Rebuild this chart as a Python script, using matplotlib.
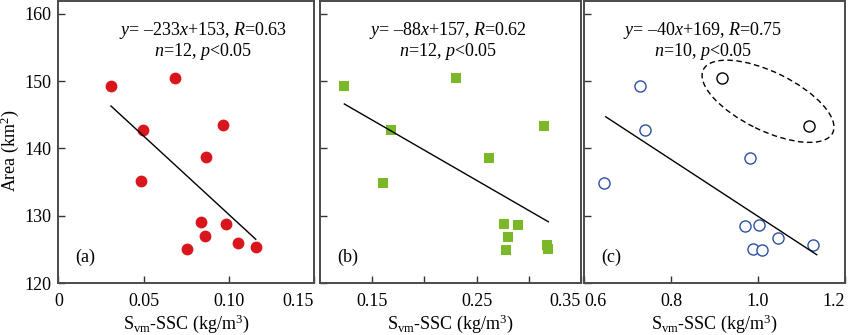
import matplotlib
matplotlib.use('Agg')
import matplotlib.pyplot as plt
from matplotlib.patches import Ellipse
from matplotlib.transforms import ScaledTranslation

plt.rcParams['font.family'] = ['Liberation Serif', 'DejaVu Serif']
plt.rcParams['mathtext.fontset'] = 'custom'
plt.rcParams['mathtext.rm'] = 'Liberation Serif'
plt.rcParams['mathtext.it'] = 'Liberation Serif:italic'
FS = 13

# (a) 红色实心圆
a_x = [0.0308, 0.0684, 0.0498, 0.0484, 0.0964, 0.0864, 0.0837, 0.0984, 0.0860, 0.0753, 0.1056, 0.1158]
a_y = [149.2, 150.5, 142.8, 135.1, 143.5, 138.7, 129.0, 128.8, 127.0, 125.1, 125.9, 125.3]
a_fit_x = [0.0308, 0.1158]
a_fit_y = [146.3, 126.5]

# (b) 绿色方块
b_x = [0.1233, 0.2300, 0.1680, 0.1601, 0.3148, 0.2619, 0.2762, 0.2894, 0.2804, 0.2779, 0.3178, 0.3182]
b_y = [149.2, 150.4, 142.7, 134.9, 143.4, 138.6, 128.8, 128.6, 126.8, 124.9, 125.7, 125.1]
b_fit_x = [0.1233, 0.3187]
b_fit_y = [146.6, 129.1]

# (c) 蓝色空心圆 + 两个离群点
c_x = [0.7287, 0.7402, 0.6467, 0.9816, 0.9701, 1.0030, 1.0453, 0.9878, 1.0099, 1.1271]
c_y = [149.2, 142.7, 134.9, 138.6, 128.5, 128.6, 126.7, 125.0, 124.9, 125.6]
c_out_x = [0.9166, 1.1180]
c_out_y = [150.5, 143.4]
c_fit_x = [0.6499, 1.135]
c_fit_y = [144.7, 124.2]
ell_center = (1.023, 147.0)

eq_text = ["$y$= \u2013233$x$+153, $R$=0.63\n$n$=12, $p$<0.05",
           "$y$= \u201388$x$+157, $R$=0.62\n$n$=12, $p$<0.05",
           "$y$= \u201340$x$+169, $R$=0.75\n$n$=10, $p$<0.05"]
eq_xpos = [0.566, 0.49, 0.456]
panel_tags = ['(a)', '(b)', '(c)']

xticks = [[0, 0.05, 0.10, 0.15], [0.15, 0.20, 0.25, 0.30, 0.35], [0.6, 0.8, 1.0, 1.2]]
xticklabels = [['0', '0.05', '0.10', '0.15'], ['0.15', '', '0.25', '', '0.35'], ['0.6', '0.8', '1.0', '1.2']]
xlims = [(0, 0.15), (0.10, 0.35), (0.6, 1.2)]

fig = plt.figure(figsize=(8.5, 3.35), dpi=100)
lefts = [58.5 / 850, 320 / 850, 584 / 850]
widths = [255.5 / 850, 261 / 850, 261 / 850]
axes = [fig.add_axes([lefts[i], 52 / 335, widths[i], 282 / 335]) for i in range(3)]

spine_col = '#4a4a4a'
for i, ax in enumerate(axes):
    ax.set_xlim(*xlims[i])
    ax.set_ylim(120, 161.9)
    ax.set_xticks(xticks[i])
    ax.set_xticklabels(xticklabels[i])
    ax.set_yticks([120, 130, 140, 150, 160])
    ax.tick_params(axis='both', direction='in', length=5, width=1, color='#333333', labelsize=FS)
    ax.tick_params(axis='x', pad=7)
    ax.tick_params(axis='y', pad=5)
    for s in ax.spines.values():
        s.set_color(spine_col)
        s.set_linewidth(1.4)
    if i > 0:
        ax.set_yticklabels([])
    ax.set_xlabel('S$_{\\mathregular{vm}}$-SSC (kg/m$^{3}$)', fontsize=FS)
    ax.xaxis.set_label_coords(0.5, -0.103)
    ax.text(eq_xpos[i], 0.858, eq_text[i], transform=ax.transAxes, ha='center', va='center',
            fontsize=FS, linespacing=1.05, multialignment='center')
    ax.text(0.065, 0.092, panel_tags[i], transform=ax.transAxes, ha='left', va='center', fontsize=FS)

# 边界处的刻度标签对齐
labs = axes[0].get_xticklabels()
labs[-1].set_horizontalalignment('right')
axes[1].get_xticklabels()[-1].set_horizontalalignment('right')
labs = axes[2].get_xticklabels()
labs[0].set_horizontalalignment('left')
labs[-1].set_horizontalalignment('right')

axes[0].set_ylabel('Area (km$^{2}$)', fontsize=FS)
axes[0].yaxis.set_label_coords(-0.145, 0.47)

axes[0].plot(a_x, a_y, 'o', color='#d9161c', markersize=8.5, markeredgewidth=0)
axes[0].plot(a_fit_x, a_fit_y, color='black', lw=1)

axes[1].plot(b_x, b_y, 's', color='#7ab828', markersize=7.5, markeredgewidth=0)
axes[1].plot(b_fit_x, b_fit_y, color='black', lw=1)

axes[2].plot(c_x, c_y, 'o', mfc='white', mec='#2b50a6', markersize=8, markeredgewidth=1)
axes[2].plot(c_out_x, c_out_y, 'o', mfc='white', mec='black', markersize=8, markeredgewidth=1)
axes[2].plot(c_fit_x, c_fit_y, color='black', lw=1)

ell = Ellipse((0, 0), 1.44, 0.586, angle=-26, fill=False, ls=(0, (4, 2.5)), lw=1, ec='black',
              transform=fig.dpi_scale_trans + ScaledTranslation(ell_center[0], ell_center[1], axes[2].transData))
axes[2].add_patch(ell)

fig.savefig('out.png', dpi=100)
